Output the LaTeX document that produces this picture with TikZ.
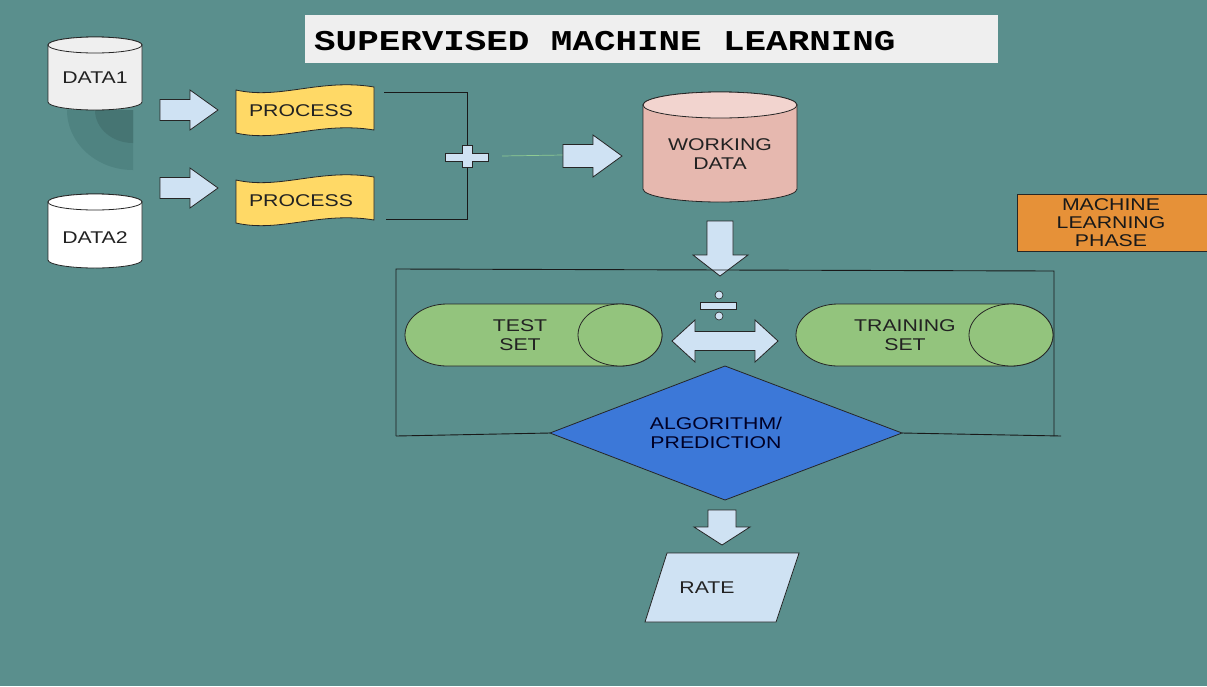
\documentclass[tikz,border=0pt]{standalone}
\usepackage{fontspec}
\setmainfont{Liberation Sans}[FakeStretch=1.25]
\newfontfamily\titlefont{Liberation Mono}[FakeStretch=1.25]
\definecolor{bg}{HTML}{5A8F8D}
\definecolor{shadowA}{HTML}{4F8381}
\definecolor{shadowB}{HTML}{467573}
\definecolor{titlebg}{HTML}{EFEFEF}
\definecolor{lblue}{HTML}{CFE2F3}
\definecolor{yell}{HTML}{FFD966}
\definecolor{pinkb}{HTML}{E6B8AF}
\definecolor{pinkt}{HTML}{F2D4CF}
\definecolor{grn}{HTML}{93C47D}
\definecolor{dblue}{HTML}{3C78D8}
\definecolor{orng}{HTML}{E69138}
\definecolor{txt}{HTML}{222222}
\definecolor{lgreen}{HTML}{8FCB93}
\begin{document}
\begin{tikzpicture}[x=1pt,y=-1pt,
  outl/.style={draw=black!85,line width=0.8pt},
  blockarrow/.style={outl,fill=lblue},
  lbl/.style={inner sep=0pt,align=center,text=txt,font=\fontsize{17}{19}\selectfont},
  link/.style={draw=black!90,line width=0.9pt}]
\fill[bg] (0,0) rectangle (1207,686);
\useasboundingbox (0,0) rectangle (1207,686);

% title
\fill[titlebg] (305,15) rectangle (998,63);
\node[anchor=west,inner sep=0pt,text=black,font=\titlefont\bfseries\fontsize{28.7}{30}\selectfont] (title) at (314,41) {SUPERVISED MACHINE LEARNING};

% shadow under DATA1
\fill[shadowA] (133,110) -- (67,110) arc[start angle=180,end angle=270,x radius=66pt,y radius=60pt] -- cycle;
\fill[shadowB] (133,110) -- (95,110) arc[start angle=180,end angle=270,x radius=38pt,y radius=33pt] -- cycle;

% DATA1 cylinder
\path[outl,fill=titlebg] (48,45) -- (48,102) arc[start angle=180,end angle=360,x radius=47pt,y radius=8pt] -- (142,45) arc[start angle=0,end angle=180,x radius=47pt,y radius=8pt] -- cycle;
\path[outl,fill=titlebg] (95,45) ellipse[x radius=47pt,y radius=8pt];
\node[lbl] (data1) at (95,78) {DATA1};

% DATA2 cylinder
\path[outl,fill=white] (48,202) -- (48,260) arc[start angle=180,end angle=360,x radius=47pt,y radius=8pt] -- (142,202) arc[start angle=0,end angle=180,x radius=47pt,y radius=8pt] -- cycle;
\path[outl,fill=white] (95,202) ellipse[x radius=47pt,y radius=8pt];
\node[lbl] (data2) at (95,238) {DATA2};

% arrows to process
\foreach \yc in {110,188}{
  \path[blockarrow] (160,\yc-10.5) -- (190,\yc-10.5) -- (190,\yc-20) -- (218,\yc) -- (190,\yc+20) -- (190,\yc+10.5) -- (160,\yc+10.5) -- cycle;
}

% process tapes
\foreach \dy/\nm in {0/p1,90/p2}{
  \path[outl,fill=yell] (236,90+\dy) .. controls (280,100+\dy) and (320,78+\dy) .. (374,87+\dy) -- (374,130+\dy) .. controls (320,121+\dy) and (280,143+\dy) .. (236,133+\dy) -- cycle;
  \node[lbl] (\nm) at (301,111+\dy) {PROCESS};
}

% join lines
\coordinate (j1) at (384,92);
\coordinate (jc1) at (467,92);
\coordinate (jc2) at (467,219);
\coordinate (j2) at (386,219);
\draw[link] (j1) -- (jc1) -- (jc2) -- (j2);

% plus sign
\path[outl,fill=lblue] (445,153) -- (462,153) -- (462,145) -- (472,145) -- (472,153) -- (488,153) -- (488,161) -- (472,161) -- (472,167) -- (462,167) -- (462,161) -- (445,161) -- cycle;

% thin green line
\coordinate (g1) at (502,156);
\coordinate (g2) at (563,155);
\draw[lgreen,line width=0.7pt] (g1) -- (g2);

% arrow to working data
\path[blockarrow] (563,144.5) -- (593,144.5) -- (593,135) -- (622,156) -- (593,177) -- (593,167.5) -- (563,167.5) -- cycle;

% WORKING DATA cylinder
\path[outl,fill=pinkb] (643,105) -- (643,189) arc[start angle=180,end angle=360,x radius=77pt,y radius=13pt] -- (797,105) arc[start angle=0,end angle=180,x radius=77pt,y radius=13pt] -- cycle;
\path[outl,fill=pinkt] (720,105) ellipse[x radius=77pt,y radius=13pt];
\node[lbl] (work) at (720,154) {WORKING\\DATA};

% down arrow 1
\path[blockarrow] (707,221) -- (733,221) -- (733,255) -- (748,255) -- (720,276) -- (693,255) -- (707,255) -- cycle;

% bracket
\coordinate (b1) at (396,436);
\coordinate (b2) at (396,269);
\coordinate (b3) at (1054,271);
\coordinate (b4) at (1054,436);
\coordinate (b5) at (1061,436);
\draw[link] (b1) -- (b2) -- (b3) -- (b4);

% division sign
\path[outl,fill=lblue,line width=0.6pt] (700,302) rectangle (736,309);
\path[outl,fill=lblue,line width=0.6pt] (719,295) circle[radius=4pt];
\path[outl,fill=lblue,line width=0.6pt] (719,316) circle[radius=4pt];

% TEST SET horizontal cylinder
\path[outl,fill=grn] (447,304) -- (620,304) arc[start angle=90,end angle=-90,x radius=42pt,y radius=31pt] -- (447,366) arc[start angle=-90,end angle=-270,x radius=42pt,y radius=31pt] -- cycle;
\path[outl,fill=grn] (620,335) ellipse[x radius=42pt,y radius=31pt];
\node[lbl] (test) at (520,335) {TEST\\SET};

% TRAINING SET horizontal cylinder
\path[outl,fill=grn] (838,304) -- (1011,304) arc[start angle=90,end angle=-90,x radius=42pt,y radius=31pt] -- (838,366) arc[start angle=-90,end angle=-270,x radius=42pt,y radius=31pt] -- cycle;
\path[outl,fill=grn] (1011,335) ellipse[x radius=42pt,y radius=31pt];
\node[lbl] (train) at (905,335) {TRAINING\\SET};

% double arrow
\path[blockarrow] (672,341) -- (695,320) -- (695,331.5) -- (755,331.5) -- (755,320) -- (778,341) -- (755,362) -- (755,350.5) -- (695,350.5) -- (695,362) -- cycle;

% diamond
\coordinate (dl) at (550,433);
\coordinate (dt) at (725,366);
\coordinate (dr) at (902,433);
\coordinate (db) at (725,500);
\path[outl,fill=dblue] (dl) -- (dt) -- (dr) -- (db) -- cycle;
\node[inner sep=0pt,align=center,text=black!85!blue,font=\fontsize{17}{19}\selectfont] (algo) at (716,433) {ALGORITHM/\\PREDICTION};
\draw[link] (b1) -- (dl);
\draw[link] (dr) -- (b5);

% down arrow 2
\path[blockarrow] (708,510) -- (736,510) -- (736,527) -- (750,527) -- (722,545) -- (694,527) -- (708,527) -- cycle;

% RATE parallelogram
\path[outl,fill=lblue] (667,553) -- (799,553) -- (776,622) -- (645,622) -- cycle;
\node[lbl] (rate) at (707,588) {RATE};

% machine learning phase box
\path[outl,fill=orng] (1017,194) rectangle (1209,251);
\node[inner sep=0pt,align=center,text=black!90,font=\fontsize{17}{18}\selectfont] (phase) at (1111,223) {MACHINE\\LEARNING\\PHASE};
\end{tikzpicture}
\end{document}
